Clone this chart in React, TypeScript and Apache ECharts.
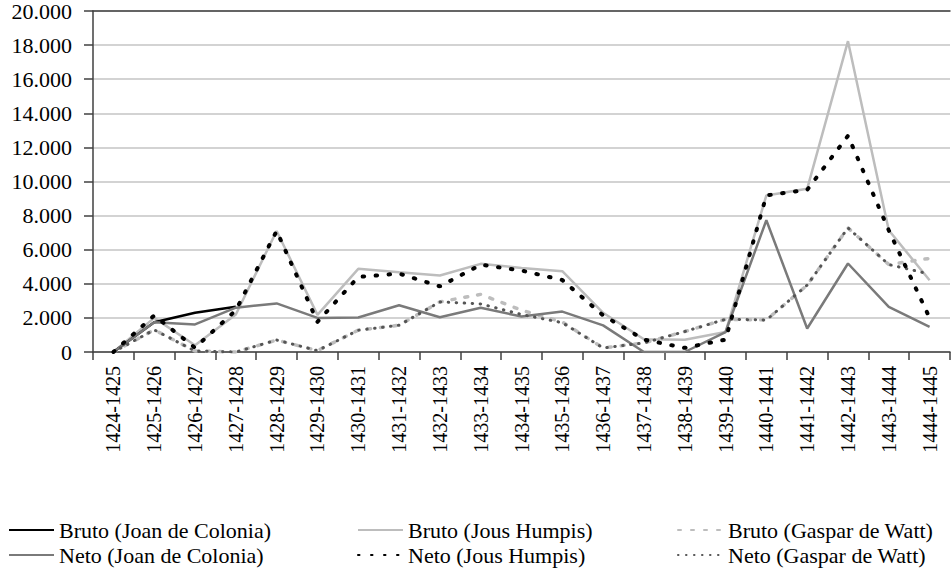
import React, { useEffect, useRef } from "react";
import * as echarts from "echarts";

const categories = [
  "1424-1425", "1425-1426", "1426-1427", "1427-1428", "1428-1429", "1429-1430",
  "1430-1431", "1431-1432", "1432-1433", "1433-1434", "1434-1435", "1435-1436",
  "1436-1437", "1437-1438", "1438-1439", "1439-1440", "1440-1441", "1441-1442",
  "1442-1443", "1443-1444", "1444-1445",
];

const brutoJoan = [0, 1750, 2300, 2650, null, null, null, null, null, null, null, null, null, null, null, null, null, null, null, null, null];
const netoJoan = [0, 1750, 1620, 2600, 2850, 2000, 2020, 2740, 2040, 2590, 2080, 2370, 1560, 0, 0, 1170, 7730, 1380, 5190, 2650, 1480];
const brutoJous = [0, 2000, 400, 2200, 7100, 2180, 4880, 4680, 4490, 5170, 4930, 4740, 2300, 750, 720, 1170, 9180, 9570, 18230, 7140, 4210];
const netoJous = [0, 2140, 250, 2450, 7100, 1770, 4400, 4600, 3850, 5120, 4780, 4220, 2150, 730, 240, 730, 9180, 9510, 12680, 7140, 2000];
const brutoGaspar = [0, 1300, 60, 0, 700, 80, 1280, 1570, 2940, 3380, 2450, 1760, 240, 530, 1200, 1920, 1880, 3920, 7280, 5130, 5490];
const netoGaspar = [0, 1300, 60, 0, 700, 80, 1280, 1570, 2940, 2820, 2200, 1720, 240, 530, 1200, 1920, 1880, 3920, 7280, 5130, 4570];

const yMin = 0;
const yMax = 20000;
const yInterval = 2000;

const FONT = "Liberation Serif";

export default function App() {
  const ref = useRef<HTMLDivElement>(null);

  useEffect(() => {
    document.body.style.margin = "0";
    if (!ref.current) return;
    const chart = echarts.init(ref.current, null, { renderer: "svg" });

    const mkLegend = (left: number, data: string[]) => ({
      orient: "vertical",
      left,
      top: 519,
      padding: 0,
      itemWidth: 45,
      itemHeight: 14,
      itemGap: 3,
      textStyle: { color: "#000", fontFamily: FONT, fontSize: 22 },
      itemStyle: { opacity: 0, color: "transparent", borderWidth: 0 },
      data,
    });

    const option: any = {
      animation: false,
      grid: { left: 93, right: 2, top: 10, bottom: 223, containLabel: false },
      legend: [
        mkLegend(8, ["Bruto (Joan de Colonia)", "Neto (Joan de Colonia)"]),
        mkLegend(357, ["Bruto (Jous Humpis)", "Neto (Jous Humpis)"]),
        mkLegend(677, ["Bruto (Gaspar de Watt)", "Neto (Gaspar de Watt)"]),
      ],
      xAxis: [
        {
          type: "category",
          data: categories,
          boundaryGap: true,
          axisLine: { lineStyle: { color: "#404040", width: 1.5 } },
          axisTick: { show: true, length: 8, lineStyle: { color: "#404040", width: 1.5 } },
          axisLabel: {
            rotate: 90,
            margin: 14,
            color: "#000",
            fontFamily: FONT,
            fontSize: 20,
            interval: 0,
          },
          splitLine: { show: false },
        },
        {
          type: "category",
          data: categories,
          position: "top",
          axisLine: { show: true, lineStyle: { color: "#404040", width: 1.5 } },
          axisTick: { show: false },
          axisLabel: { show: false },
          splitLine: { show: false },
        },
      ],
      yAxis: {
        type: "value",
        min: yMin,
        max: yMax,
        interval: yInterval,
        axisLine: { show: true, lineStyle: { color: "#404040", width: 1.5 } },
        axisTick: { show: true, length: 9, lineStyle: { color: "#404040", width: 1.5 } },
        axisLabel: {
          margin: 21,
          color: "#000",
          fontFamily: FONT,
          fontSize: 22,
          formatter: (v: number) => (v === 0 ? "0" : `${v / 1000}.000`),
        },
        splitLine: { show: true, lineStyle: { color: "#C4C4C4", width: 1.5 } },
      },
      series: [
        {
          name: "Bruto (Jous Humpis)",
          type: "line",
          data: brutoJous,
          symbol: "none",
          lineStyle: { color: "#BDBDBD", width: 2.5 },
          itemStyle: { color: "#BDBDBD" },
          z: 2,
        },
        {
          name: "Bruto (Gaspar de Watt)",
          type: "line",
          data: brutoGaspar,
          symbol: "none",
          lineStyle: { color: "#BDBDBD", width: 3.5, type: [3, 10], cap: "round" },
          itemStyle: { color: "#BDBDBD" },
          z: 3,
        },
        {
          name: "Bruto (Joan de Colonia)",
          type: "line",
          data: brutoJoan,
          symbol: "none",
          connectNulls: false,
          lineStyle: { color: "#000000", width: 2.5 },
          itemStyle: { color: "#000000" },
          z: 4,
        },
        {
          name: "Neto (Joan de Colonia)",
          type: "line",
          data: netoJoan,
          symbol: "none",
          lineStyle: { color: "#7A7A7A", width: 2.5 },
          itemStyle: { color: "#7A7A7A" },
          z: 5,
        },
        {
          name: "Neto (Gaspar de Watt)",
          type: "line",
          data: netoGaspar,
          symbol: "none",
          lineStyle: { color: "#555555", width: 3, type: [0.5, 7.5], cap: "round" },
          itemStyle: { color: "#555555" },
          z: 6,
        },
        {
          name: "Neto (Jous Humpis)",
          type: "line",
          data: netoJous,
          symbol: "none",
          lineStyle: { color: "#000000", width: 4, type: [1.5, 11.5], cap: "round" },
          itemStyle: { color: "#000000" },
          z: 7,
        },
      ],
    };

    chart.setOption(option);
    return () => chart.dispose();
  }, []);

  return <div ref={ref} style={{ width: 952, height: 575 }} />;
}
